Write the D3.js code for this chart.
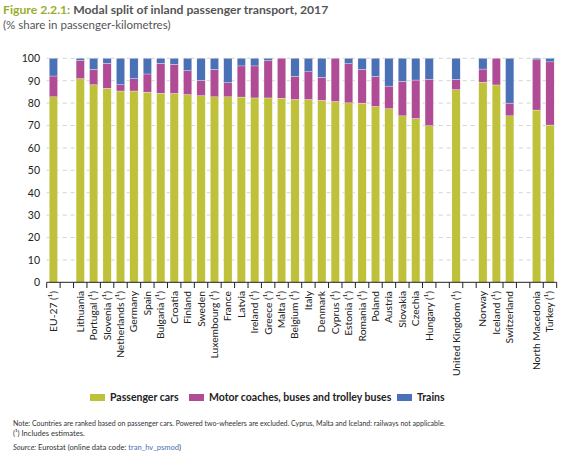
<!DOCTYPE html>
<html><head><meta charset="utf-8">
<script src="https://cdn.jsdelivr.net/npm/d3@7"></script>
<style>body{margin:0;background:#fff;} text{font-family:Lato,"Open Sans",sans-serif;}</style>
</head><body>
<svg id="c" width="580" height="459"></svg>
<script>
const categories = ["EU-27 (¹)","","Lithuania","Portugal (¹)","Slovenia (¹)","Netherlands (¹)","Germany","Spain","Bulgaria (¹)","Croatia","Finland","Sweden","Luxembourg (¹)","France","Latvia","Ireland (¹)","Greece (¹)","Malta (¹)","Belgium (¹)","Italy","Denmark","Cyprus (¹)","Estonia (¹)","Romania (¹)","Poland","Austria","Slovakia","Czechia","Hungary (¹)","","United Kingdom (¹)","","Norway","Iceland (¹)","Switzerland","","North Macedonia","Turkey (¹)"];
const cars   = [82.8,null,90.9,88.2,86.6,85.4,85.4,84.9,84.4,84.3,83.8,83.3,82.8,82.8,82.7,82.3,82.3,82.2,81.6,81.6,81.2,80.7,80.1,80.0,78.5,77.5,74.3,73.1,69.9,null,86.0,null,89.3,88.1,74.3,null,76.9,70.2];
const buses  = [9.3,null,8.2,6.9,11.2,2.8,5.5,8.1,13.4,13.0,10.7,6.8,12.3,6.3,13.9,14.3,16.7,17.8,10.3,12.4,10.3,19.3,17.5,15.1,13.4,10.1,15.4,17.2,20.8,null,4.6,null,5.9,11.9,5.7,null,22.4,28.2];
const trains = [7.9,null,0.9,4.9,2.2,11.8,9.1,7.0,2.2,2.7,5.5,9.9,4.9,10.9,3.4,3.4,1.0,0,8.1,6.0,8.5,0,2.4,4.9,8.1,12.4,10.3,9.7,9.3,null,9.4,null,4.8,0,20.0,null,0.7,1.6];
const yTicks = [0,10,20,30,40,50,60,70,80,90,100];
const seriesNames = ["Passenger cars","Motor coaches, buses and trolley buses","Trains"];
const colors = ["#bfc13a","#b04b95","#4a70b6"];

const svg = d3.select("#c");
const keys = categories.map((c,i)=>i);
const x = d3.scaleBand().domain(keys).range([46.7,556.7]).paddingInner(0.38).paddingOuter(0.19);
const y = d3.scaleLinear().domain([0,100]).range([282.3,58.3]);

// title
const t = svg.append("text").attr("x",3).attr("y",14).attr("font-size",12.2).attr("font-weight","bold");
t.append("tspan").attr("fill","#9aae2c").text("Figure 2.2.1: ");
t.append("tspan").attr("fill","#555").text("Modal split of inland passenger transport, 2017");
svg.append("text").attr("x",3).attr("y",29).attr("font-size",11.5).attr("fill","#555").text("(% share in passenger-kilometres)");

// grid
svg.append("g").selectAll("line").data(yTicks.filter(d=>d>0)).join("line")
  .attr("x1",46.7).attr("x2",558).attr("y1",d=>y(d)).attr("y2",d=>y(d))
  .attr("stroke","#c8c8c8").attr("stroke-width",0.8).attr("stroke-dasharray","4,4");

// y labels
svg.append("g").selectAll("text").data(yTicks).join("text")
  .attr("x",40).attr("y",d=>y(d)+3.8).attr("text-anchor","end").attr("font-size",10.5).attr("fill","#222").text(d=>d);

// stacked bars
const rows = categories.map((c,i)=>({i, c, cars:cars[i], buses:buses[i], trains:trains[i]})).filter(d=>d.cars!==null);
const stack = d3.stack().keys(["cars","buses","trains"])(rows);
svg.append("g").selectAll("g").data(stack).join("g").attr("fill",(d,k)=>colors[k])
  .selectAll("rect").data(d=>d).join("rect")
  .attr("x",d=>x(d.data.i)).attr("width",x.bandwidth())
  .attr("y",d=>y(d[1])).attr("height",d=>Math.max(0,y(d[0])-y(d[1])))
  .attr("stroke","#fff").attr("stroke-width",0.3);

// x axis
const step = x.step();
const ax = svg.append("g");
ax.append("line").attr("x1",46.7).attr("x2",556.7).attr("y1",282.3).attr("y2",282.3).attr("stroke","#222").attr("stroke-width",1);
ax.selectAll("line.t").data(d3.range(categories.length+1)).join("line").attr("class","t")
  .attr("x1",i=>46.7+i*step).attr("x2",i=>46.7+i*step).attr("y1",282.3).attr("y2",288).attr("stroke","#222").attr("stroke-width",1);
ax.selectAll("text").data(keys.filter(i=>categories[i]!=="")).join("text")
  .attr("transform",i=>`translate(${x(i)+x.bandwidth()/2+3.5},291) rotate(-90)`)
  .attr("text-anchor","end").attr("font-size",10.3).attr("fill","#222").text(i=>categories[i]);

// legend
const lx = [90,189,397];
const lg = svg.append("g");
seriesNames.forEach((n,k)=>{
  lg.append("rect").attr("x",lx[k]).attr("y",394).attr("width",15).attr("height",7).attr("fill",colors[k]);
  lg.append("text").attr("x",lx[k]+20).attr("y",401).attr("font-size",10.5).attr("font-weight","bold").attr("fill","#222").text(n);
});

// notes
svg.append("text").attr("x",13).attr("y",426).attr("font-size",7.6).attr("fill","#333")
  .attr("textLength",432).attr("lengthAdjust","spacingAndGlyphs")
  .text("Note: Countries are ranked based on passenger cars. Powered two-wheelers are excluded. Cyprus, Malta and Iceland: railways not applicable.");
svg.append("text").attr("x",13).attr("y",435.5).attr("font-size",7.6).attr("fill","#333").text("(¹) Includes estimates.");
const s = svg.append("text").attr("x",13).attr("y",449.5).attr("font-size",7.6).attr("fill","#333");
s.append("tspan").attr("font-style","italic").text("Source: ");
s.append("tspan").text("Eurostat (online data code: ");
s.append("tspan").attr("fill","#4a70b6").text("tran_hv_psmod");
s.append("tspan").text(")");
</script>
</body></html>
